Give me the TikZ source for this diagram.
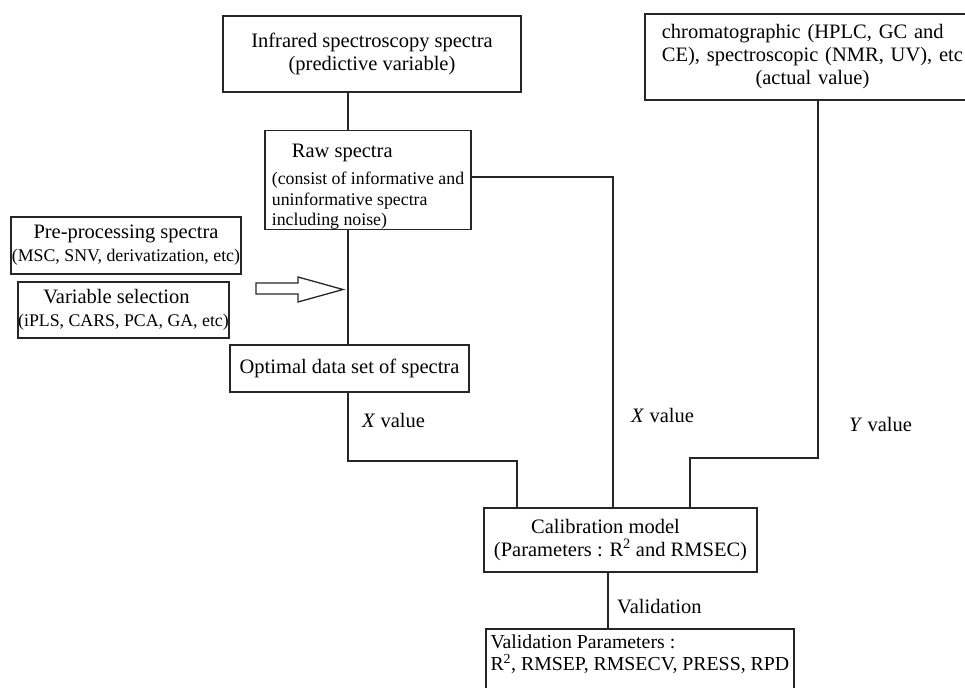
\documentclass[tikz,border=0pt]{standalone}
\usepackage{fontspec}
\setmainfont{Liberation Serif}
\newcommand{\fa}{\fontsize{20.5}{23}\selectfont}
\newcommand{\fsm}{\fontsize{17.8}{20}\selectfont}
\newcommand{\fv}{\fontsize{19.8}{22}\selectfont}
\begin{document}
\begin{tikzpicture}[x=1pt,y=-1pt,
  box/.style={draw=black!85, line width=1.7pt, rectangle, inner sep=0pt, font=\fa},
  conn/.style={draw=black!85, line width=1.7pt},
  lbl/.style={inner sep=0pt, font=\fa, anchor=west}]
\useasboundingbox (0,0) rectangle (965,687);

% boxes
\node[box, minimum width=298, minimum height=76, align=center] (ir) at (372,54)
  {Infrared spectroscopy spectra\\(predictive variable)};
\node[box, anchor=north west, text width=340, inner xsep=17pt, minimum height=86, align=left] (chrom) at (644,13)
  {\begin{tabular}{@{}l@{}}chromatographic (HPLC, GC and\\CE), spectroscopic (NMR, UV), etc\\\multicolumn{1}{@{}c@{}}{(actual value)}\end{tabular}};
\node[box, minimum width=206, minimum height=96, align=left] (raw) at (368,180)
  {{\fa\rule{0pt}{27pt}\hspace*{20pt}Raw spectra}\\[4pt]{\fsm(consist of informative and}\\[-2pt]{\fsm uninformative spectra}\\[-3pt]{\fsm including noise)}};
\node[box, minimum width=230, minimum height=57, align=center] (pre) at (126,245.5)
  {Pre-processing spectra\\{\fsm(MSC, SNV, derivatization, etc)}};
\node[box, minimum width=209, minimum height=56, align=center] (var) at (123.5,310)
  {\hspace*{-14pt}Variable selection\\{\fsm(iPLS, CARS, PCA, GA, etc)}};
\node[box, minimum width=239, minimum height=47] (opt) at (349.5,368.5)
  {Optimal data set of spectra};
\node[box, minimum width=273, minimum height=64, align=center] (calib) at (620.5,540)
  {\hspace*{-30pt}Calibration model\\(Parameters : R\textsuperscript{2} and RMSEC)};
\node[box, anchor=north west, minimum width=308, inner xsep=2pt, inner ysep=6pt, align=left, font=\fv] (valbox) at (485,628)
  {Validation Parameters :\\R\textsuperscript{2}, RMSEP, RMSECV, PRESS, RPD\\\strut\\\strut};

% hollow block arrow
\draw[black!85, line width=1.3pt, line join=miter] (256,283) -- (298,283) -- (298,277) -- (343,289.5)
  -- (298,302) -- (298,294) -- (256,294) -- cycle;

% connector coordinates
\coordinate (vx) at (348,0);
\coordinate (j1) at (517,461);
\coordinate (j2) at (613,177);
\coordinate (j3) at (818,458);
\coordinate (j4) at (690,458);
\coordinate (vv) at (608,0);

\draw[conn] (ir.south -| vx) -- (raw.north -| vx);
\draw[conn] (raw.south -| vx) -- (opt.north -| vx);
\draw[conn] (opt.south -| vx) |- (j1) -- (calib.north -| j1);
\draw[conn] (raw.east |- j2) -| (calib.north -| j2);
\draw[conn] (chrom.south -| j3) -- (j3) -- (j4) -- (calib.north -| j4);
\draw[conn] (calib.south -| vv) -- (valbox.north -| vv);

% labels
\node[lbl] (xv1) at (362,420) {\textit{X} value};
\node[lbl] (xv2) at (631,415) {\textit{X} value};
\node[lbl] (yv) at (849,424) {\textit{Y} value};
\node[lbl] (vl) at (617,607) {Validation};
\end{tikzpicture}
\end{document}
